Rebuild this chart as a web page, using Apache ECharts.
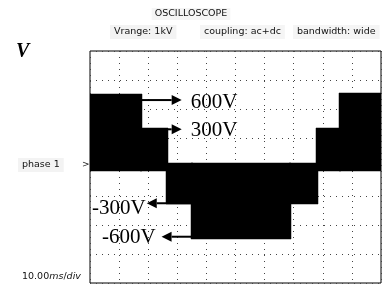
<!DOCTYPE html>
<html>
<head>
<meta charset="utf-8">
<style>
  html, body { margin: 0; padding: 0; background: #fff; }
  #chart { width: 382px; height: 289px; }
</style>
<script src="https://cdn.jsdelivr.net/npm/echarts@6/dist/echarts.min.js"></script>
</head>
<body>
<div id="chart"></div>
<script>
// waveform steps (time in ms, level in V)
var segStart = [0, 17.2, 26.4, 34.9, 68.7, 77.7, 85.9];
var segEnd = [17.2, 26.4, 34.9, 68.7, 77.7, 85.9, 100];
var segLevel = [605, 325, -305, -595, -305, 325, 610];
var segBase = [-30, -30, 36, 36, 36, -30, -30];

// arrow annotations
var arrowFrom = [17.2, 26.4, 34.9, 34.9];
var arrowTo = [31.5, 31.5, 19.5, 24.6];
var arrowY = [554, 312, -300, -577];
var arrowText = ['600V', '300V', '-300V', '-600V'];

var chart = echarts.init(document.getElementById('chart'));

var segData = segStart.map(function (s, i) {
  return [s, segEnd[i], segBase[i], segLevel[i]];
});
var arrowData = arrowFrom.map(function (f, i) {
  return [f, arrowTo[i], arrowY[i], arrowText[i]];
});

var option = {
  animation: false,
  grid: {
    left: 90,
    right: 1,
    top: 51,
    bottom: 6,
    show: true,
    borderColor: '#000',
    borderWidth: 1,
    backgroundColor: '#fff'
  },
  xAxis: {
    type: 'value',
    min: 0,
    max: 100,
    interval: 10,
    axisLine: { show: false },
    axisTick: { show: false },
    axisLabel: { show: false },
    splitLine: {
      show: true,
      lineStyle: { color: '#444', width: 1, type: [1, 5] }
    }
  },
  yAxis: {
    type: 'value',
    min: -960,
    max: 960,
    interval: 240,
    axisLine: { show: false },
    axisTick: { show: false },
    axisLabel: { show: false },
    splitLine: {
      show: true,
      lineStyle: { color: '#444', width: 1, type: [1, 5] }
    }
  },
  graphic: [
    {
      type: 'text', left: 'center', top: 8,
      style: { text: 'OSCILLOSCOPE', font: '9.5px "DejaVu Sans"', fill: '#111',
        backgroundColor: '#f5f5f5', padding: [1, 3] }
    },
    {
      type: 'text', left: 110, top: 25,
      style: { text: 'Vrange: 1kV', font: '9.5px "DejaVu Sans"', fill: '#111',
        backgroundColor: '#f3f3f3', padding: [2, 4] }
    },
    {
      type: 'text', left: 200, top: 25,
      style: { text: 'coupling: ac+dc', font: '9.5px "DejaVu Sans"', fill: '#111',
        backgroundColor: '#f5f5f5', padding: [2, 4] }
    },
    {
      type: 'text', left: 293, top: 25,
      style: { text: 'bandwidth: wide', font: '9.5px "DejaVu Sans"', fill: '#111',
        backgroundColor: '#f5f5f5', padding: [2, 4] }
    },
    {
      type: 'text', left: 16, top: 42,
      style: { text: 'V', font: 'italic bold 20px "Liberation Serif"', fill: '#000' }
    },
    {
      type: 'text', left: 18, top: 158,
      style: { text: 'phase 1', font: '9.5px "DejaVu Sans"', fill: '#111',
        backgroundColor: '#f3f3f3', padding: [2, 4] }
    },
    {
      type: 'text', left: 82, top: 160,
      style: { text: '>', font: '9px "DejaVu Sans"', fill: '#222' }
    },
    {
      type: 'text', left: 22, top: 272,
      style: {
        text: '10.00{i|ms}/{i|div}',
        font: '9.5px "DejaVu Sans"', fill: '#111',
        rich: { i: { fontStyle: 'italic', fontFamily: 'DejaVu Sans', fontSize: 9.5 } }
      }
    }
  ],
  series: [
    {
      type: 'custom',
      coordinateSystem: 'cartesian2d',
      data: segData,
      clip: true,
      encode: { x: [0, 1], y: [2, 3] },
      renderItem: function (params, api) {
        var p0 = api.coord([api.value(0), api.value(3)]);
        var p1 = api.coord([api.value(1), api.value(2)]);
        var x0 = Math.floor(p0[0]);
        var x1 = Math.ceil(p1[0]) + 1;
        var y0 = Math.round(Math.min(p0[1], p1[1]));
        var y1 = Math.round(Math.max(p0[1], p1[1]));
        return {
          type: 'rect',
          shape: { x: x0, y: y0, width: x1 - x0, height: y1 - y0 },
          style: { fill: '#000', stroke: '#000', lineWidth: 0.5 }
        };
      },
      z: 2
    },
    {
      type: 'custom',
      coordinateSystem: 'cartesian2d',
      data: arrowData,
      encode: { x: [0, 1], y: 2 },
      renderItem: function (params, api) {
        var a = api.coord([api.value(0), api.value(2)]);
        var b = api.coord([api.value(1), api.value(2)]);
        var dir = b[0] > a[0] ? 1 : -1;
        var head = 10, half = 5;
        var label = arrowText[params.dataIndex];
        var tx = dir > 0 ? b[0] + 9 : b[0] - (label === '-600V' ? 6 : 1);
        var ty = b[1] + (label === '-300V' ? 5 : (label === '600V' ? 2 : 1));
        return {
          type: 'group',
          children: [
            {
              type: 'line',
              shape: { x1: a[0], y1: a[1], x2: b[0] - dir * head, y2: b[1] },
              style: { stroke: '#000', lineWidth: 2 }
            },
            {
              type: 'polygon',
              shape: { points: [[b[0], b[1]], [b[0] - dir * head, b[1] - half], [b[0] - dir * head, b[1] + half]] },
              style: { fill: '#000' }
            },
            {
              type: 'text',
              x: tx,
              y: ty,
              style: {
                text: label,
                font: '21px "Liberation Serif"',
                fill: '#000',
                align: dir > 0 ? 'left' : 'right',
                verticalAlign: 'middle'
              }
            }
          ]
        };
      },
      z: 3
    }
  ]
};

chart.setOption(option);
</script>
</body>
</html>
